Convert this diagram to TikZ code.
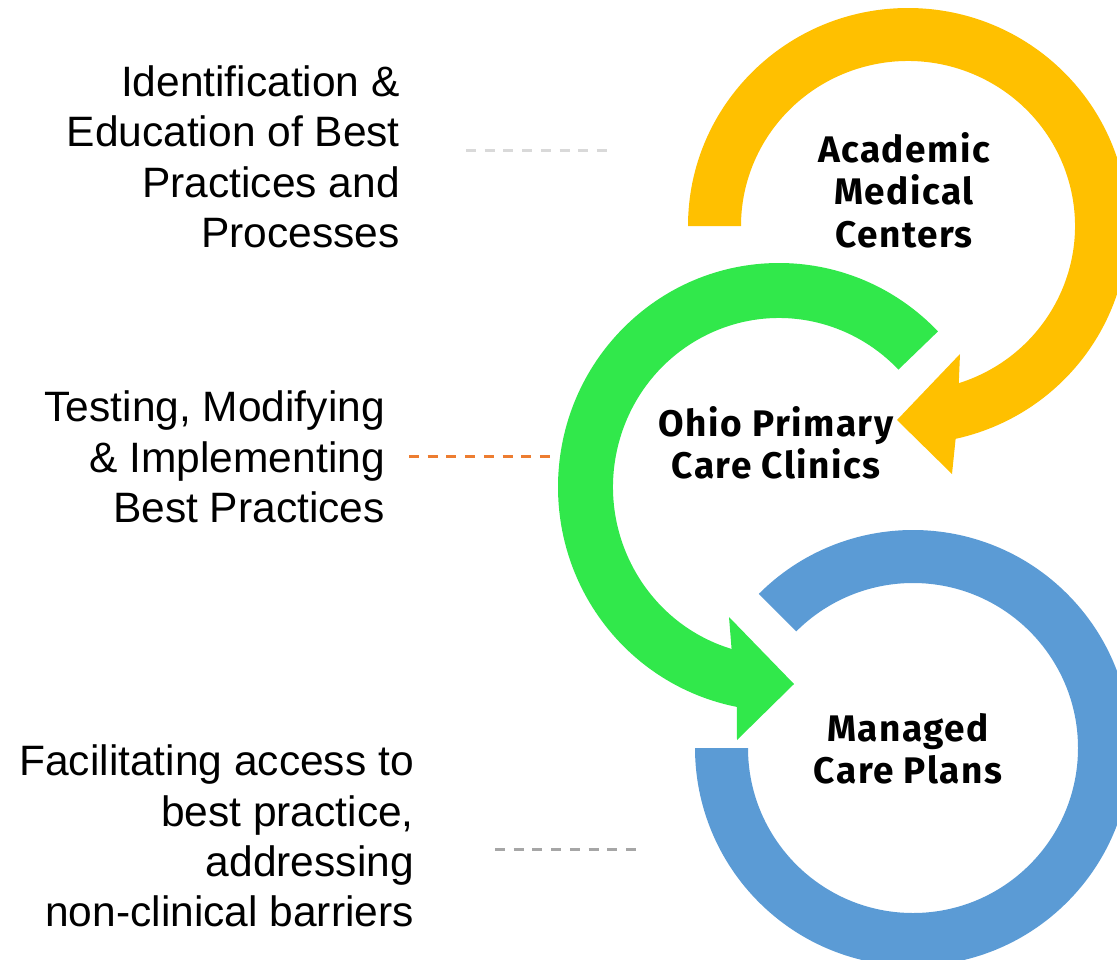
\documentclass[tikz,border=0pt]{standalone}
\usepackage{fontspec}
\setmainfont{Liberation Sans}
\newfontfamily\labelfont[LetterSpace=4]{Fira Sans}
\usetikzlibrary{calc}
\definecolor{ringyellow}{HTML}{FFC000}
\definecolor{ringgreen}{HTML}{31E84B}
\definecolor{ringblue}{HTML}{5B9BD5}
\definecolor{dashorange}{HTML}{ED7D31}
\definecolor{dashlight}{HTML}{D9D9D9}
\definecolor{dashgray}{HTML}{A6A6A6}
\begin{document}
\begin{tikzpicture}[x=1pt,y=1pt,
  side/.style={font=\fontsize{42.5}{50.4}\selectfont, align=right, anchor=east, inner sep=0pt},
  hub/.style={font=\labelfont\bfseries\fontsize{37}{42.5}\selectfont, align=center, inner sep=0pt},
  link/.style={line width=3pt, dash pattern=on 10pt off 8.7pt}]
\useasboundingbox (0,0) rectangle (1117,-959);
\clip (0,0) rectangle (1117,-959);

% ring centres
\coordinate (yc) at (908,-226);
\coordinate (gc) at (779,-487);
\coordinate (bc) at (913,-748);

% blue ring (no arrowhead)
\fill[ringblue] ($(bc)+(135:218pt)$) arc[start angle=135, end angle=-180, radius=218pt]
  -- ($(bc)+(180:165pt)$) arc[start angle=-180, end angle=135, radius=165pt] -- cycle;

% yellow circular arrow
\fill[ringyellow] ($(yc)+(180:220pt and 218pt)$)
  arc[start angle=180, end angle=-77.5, x radius=220pt, y radius=218pt]
  -- (952,-474) -- (897,-420) -- (960,-354)
  -- ($(yc)+(-72.3:167pt and 165pt)$)
  arc[start angle=-72.3, end angle=180, x radius=167pt, y radius=165pt] -- cycle;

% green circular arrow
\fill[ringgreen] ($(gc)+(44:221pt and 224pt)$)
  arc[start angle=44, end angle=259, x radius=221pt, y radius=224pt]
  -- (737,-740) -- (794,-684) -- (729,-617)
  -- ($(gc)+(253.4:166pt and 169pt)$)
  arc[start angle=253.4, end angle=44, x radius=166pt, y radius=169pt] -- cycle;

% labels inside the rings
\node[hub] (amc) at (904,-190) {Academic\\Medical\\Centers};
\node[hub] (opc) at (776,-443) {Ohio Primary\\Care Clinics};
\node[hub] (mcp) at (908,-749) {Managed\\Care Plans};

% descriptions on the left
\node[side] (t1) at (400,-157) {Identification \&\\Education of Best\\Practices and\\Processes};
\node[side] (t2) at (385,-457) {Testing, Modifying\\\& Implementing\\Best Practices};
\node[side] (t3) at (414,-836) {Facilitating access to\\best practice,\\addressing\\non-clinical barriers};

% dashed leaders
\coordinate (d1a) at (466,-150); \coordinate (d1b) at (607,-150);
\coordinate (d2a) at (409,-456); \coordinate (d2b) at (550,-456);
\coordinate (d3a) at (495,-849); \coordinate (d3b) at (636,-849);
\draw[link, dashlight] (d1a) -- (d1b);
\draw[link, dashorange] (d2a) -- (d2b);
\draw[link, dashgray] (d3a) -- (d3b);
\end{tikzpicture}
\end{document}
